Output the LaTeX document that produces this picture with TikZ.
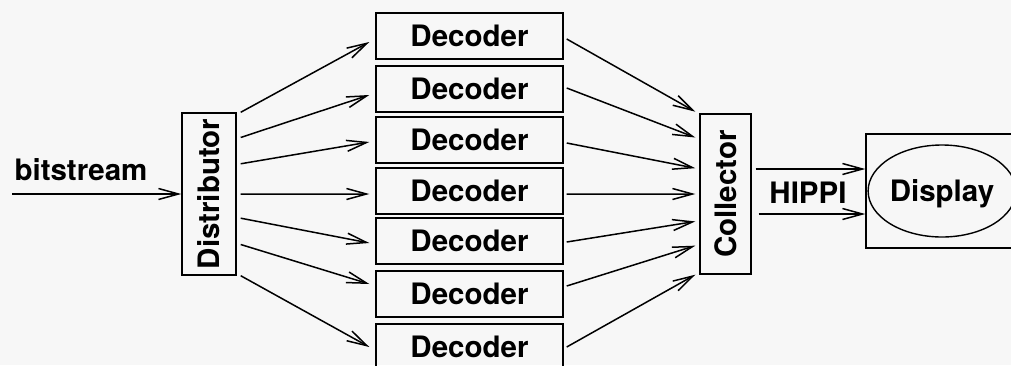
\documentclass[tikz,border=0pt]{standalone}
\usepackage{fontspec}
\setmainfont{TeX Gyre Heros}
\usetikzlibrary{arrows.meta,calc,shapes.geometric}
\definecolor{bgc}{RGB}{247,247,247}
\begin{document}
\begin{tikzpicture}[x=1pt,y=-1pt,
  box/.style={draw, line width=1.4pt, inner sep=0pt},
  lbl/.style={font=\fontsize{29.5}{33}\selectfont\bfseries},
  arr/.style={line width=1.5pt, -{Straight Barb[length=20pt,width=11pt,line width=1.5pt]}},
]
\fill[bgc] (0,0) rectangle (1011,365);
\useasboundingbox (0,0) rectangle (1011,365);

% Distributor
\node[box, lbl, minimum width=54pt, minimum height=162pt] (dist) at (209,194) {\rotatebox{90}{Distributor}};

% Decoders
\foreach \i/\y in {1/36,2/89,3/140,4/191,5/241,6/294,7/347}
  \node[box, lbl, minimum width=187pt, minimum height=46pt, text height=21pt, text depth=0pt] (dec\i) at (469.5,\y) {Decoder};

% Collector
\node[box, lbl, minimum width=51pt, minimum height=160pt] (coll) at (725.5,194) {\rotatebox{90}{Collector}};

% Display
\node[box, minimum width=150pt, minimum height=114pt] (disp) at (941,191) {};
\node[draw, ellipse, line width=1.4pt, minimum width=136pt, minimum height=92pt, inner sep=0pt, lbl, text depth=0pt] (dispe) at (942,191) {Display};

% bitstream input
\coordinate (bsin) at (12,194);
\draw[arr] (bsin) -- (dist.west);
\node[lbl, anchor=base] (bst) at (81,180) {bitstream};

% Distributor -> Decoders
\foreach \i/\f/\dy in {1/0/6,2/0.154/6,3/0.315/2,4/0.5/3,5/0.648/2,6/0.809/-10,7/1/0}
  \draw[arr] ($(dist.north east)!\f!(dist.south east)+(4,0)$) -- ($(dec\i.west)+(-6,\dy)$);

% Decoders -> Collector
\foreach \i/\dy/\f in {1/3/-0.01,2/-1/0.15,3/3/0.34,4/3/0.5,5/1/0.67,6/-8/0.82,7/0/1}
  \draw[arr] ($(dec\i.east)+(3,\dy)$) -- ($(coll.north west)!\f!(coll.south west)+(-4,0)$);

% HIPPI links
\coordinate (h1) at ($(coll.east)+(4,-25)$);
\coordinate (h2) at ($(coll.east)+(7,20)$);
\draw[arr] (h1) -- (disp.west |- h1);
\draw[arr] (h2) -- (disp.west |- h2);
\node[lbl, anchor=base] (hip) at (808,203) {HIPPI};
\end{tikzpicture}
\end{document}
